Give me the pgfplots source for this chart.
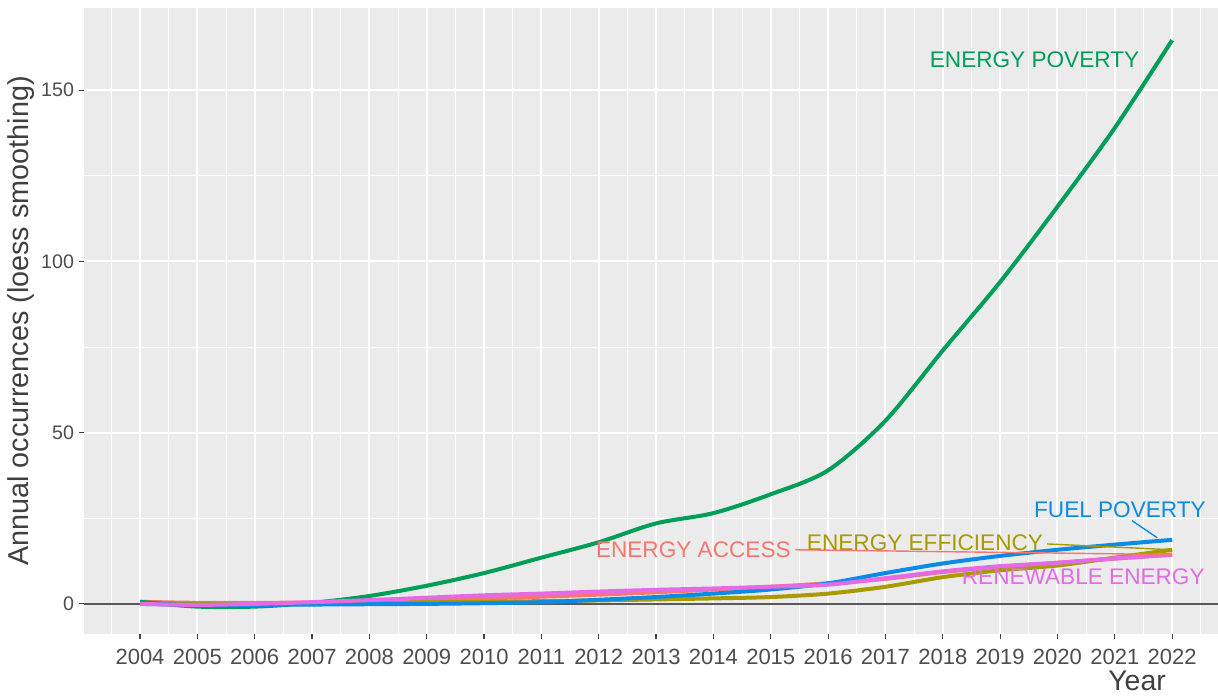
\documentclass[border=0pt]{standalone}
\usepackage{fontspec}
\setmainfont{Liberation Sans}
\usepackage{pgfplots}
\pgfplotsset{compat=1.18}
\definecolor{ggbg}{HTML}{EBEBEB}
\definecolor{cacc}{HTML}{F8766D}
\definecolor{ceff}{HTML}{A89A00}
\definecolor{cpov}{HTML}{009E58}
\definecolor{cfuel}{HTML}{0A8CE6}
\definecolor{cren}{HTML}{E56BE6}
\definecolor{tickgray}{HTML}{4D4D4D}

\begin{document}
\begin{tikzpicture}
\begin{axis}[
  name=ax, scale only axis, width=567pt, height=313pt,
  xmin=2003.023, xmax=2022.8, ymin=-8.8, ymax=174,
  axis background/.style={fill=ggbg},
  axis line style={draw=none},
  xtick pos=bottom, ytick pos=left,
  xtick={2004,2005,...,2022},
  minor xtick={2003.5,2004.5,...,2022.5},
  ytick={0,50,100,150}, minor ytick={25,75,125},
  grid=both,
  major grid style={white, line width=1pt},
  minor grid style={white, line width=0.5pt},
  tick align=outside, major tick length=2.5pt, minor tick length=0pt,
  tick style={color=black!75, line width=0.6pt},
  /pgf/number format/assume math mode=true,
  ticklabel style={text=tickgray},
  xticklabel style={/pgf/number format/1000 sep={}, yshift=-1.5pt, font=\fontsize{11}{13}\selectfont},
  yticklabel style={xshift=1pt, font=\fontsize{9.8}{12}\selectfont},
  xlabel={Year}, ylabel={Annual occurrences (loess smoothing)},
  every axis x label/.style={at={(axis description cs:0.9286,-0.075)}, anchor=center,
    font=\fontsize{14.2}{16}\selectfont, text=black!75},
  every axis y label/.style={at={(axis description cs:-0.0555,0.5)}, rotate=90, anchor=center,
    font=\fontsize{14.4}{16}\selectfont, text=black!75},
  clip=false,
]
% zero line
\addplot[black!65, line width=0.75pt] coordinates {(2003.023,0)(2022.8,0)};
% ENERGY ACCESS
\addplot[cacc, line width=2pt, smooth, tension=0.5] coordinates {
  (2004,0.6)(2005,0.3)(2006,0.3)(2007,0.4)(2008,0.7)(2009,1.2)(2010,1.6)
  (2011,2.1)(2012,2.7)(2013,3.4)(2014,4.2)(2015,5.0)(2016,6.0)(2017,7.3)
  (2018,9.3)(2019,10.8)(2020,12.0)(2021,13.2)(2022,14.4)};
% ENERGY EFFICIENCY
\addplot[ceff, line width=2pt, smooth, tension=0.5] coordinates {
  (2004,0.5)(2005,0.0)(2006,0.0)(2007,0.0)(2008,0.3)(2009,0.5)(2010,0.6)
  (2011,0.8)(2012,1.0)(2013,1.3)(2014,1.6)(2015,2.0)(2016,3.0)(2017,5.0)
  (2018,7.8)(2019,9.8)(2020,11.2)(2021,13.5)(2022,15.8)};
% ENERGY POVERTY
\addplot[cpov, line width=2pt, smooth, tension=0.5] coordinates {
  (2004,0.6)(2005,-0.8)(2006,-0.8)(2007,0.3)(2008,2.3)(2009,5.3)(2010,9.0)
  (2011,13.5)(2012,18.0)(2013,23.5)(2014,26.5)(2015,32.0)(2016,39.0)
  (2017,53.5)(2018,74.0)(2019,94.0)(2020,116.0)(2021,139.0)(2022,164.6)};
% FUEL POVERTY
\addplot[cfuel, line width=2pt, smooth, tension=0.5] coordinates {
  (2004,0.0)(2005,-0.3)(2006,-0.3)(2007,-0.2)(2008,-0.1)(2009,0.0)(2010,0.2)
  (2011,0.5)(2012,1.2)(2013,2.0)(2014,3.0)(2015,4.2)(2016,6.0)(2017,9.0)
  (2018,11.8)(2019,14.0)(2020,15.8)(2021,17.3)(2022,18.7)};
% RENEWABLE ENERGY
\addplot[cren, line width=2pt, smooth, tension=0.5] coordinates {
  (2004,0.0)(2005,-0.3)(2006,0.0)(2007,0.5)(2008,1.1)(2009,1.8)(2010,2.5)
  (2011,3.0)(2012,3.6)(2013,4.1)(2014,4.5)(2015,5.0)(2016,5.6)(2017,7.5)
  (2018,9.5)(2019,11.0)(2020,12.0)(2021,13.3)(2022,14.3)};
% label segments
\addplot[cacc, line width=0.7pt] coordinates {(2015.43,15.8)(2022,14.4)};
\addplot[ceff, line width=0.7pt] coordinates {(2019.82,17.5)(2022,15.8)};
\addplot[cfuel, line width=0.7pt] coordinates {(2021.3,24.3)(2021.74,19.3)};
% labels
\node[text=cpov, font=\fontsize{11.3}{13}\selectfont] at (axis cs:2019.6,158.8) {ENERGY POVERTY};
\node[text=cfuel, font=\fontsize{11.3}{13}\selectfont] at (axis cs:2021.09,27.5) {FUEL POVERTY};
\node[text=ceff, font=\fontsize{11.3}{13}\selectfont] at (axis cs:2017.69,17.8) {ENERGY EFFICIENCY};
\node[text=cacc, font=\fontsize{11.3}{13}\selectfont] at (axis cs:2013.65,15.8) {ENERGY ACCESS};
\node[text=cren, font=\fontsize{11.3}{13}\selectfont] at (axis cs:2020.45,7.9) {RENEWABLE ENERGY};
\end{axis}
\pgfresetboundingbox
\path ([xshift=-42pt,yshift=-31.5pt]ax.south west) rectangle ([yshift=4pt]ax.north east);
\end{tikzpicture}
\end{document}
